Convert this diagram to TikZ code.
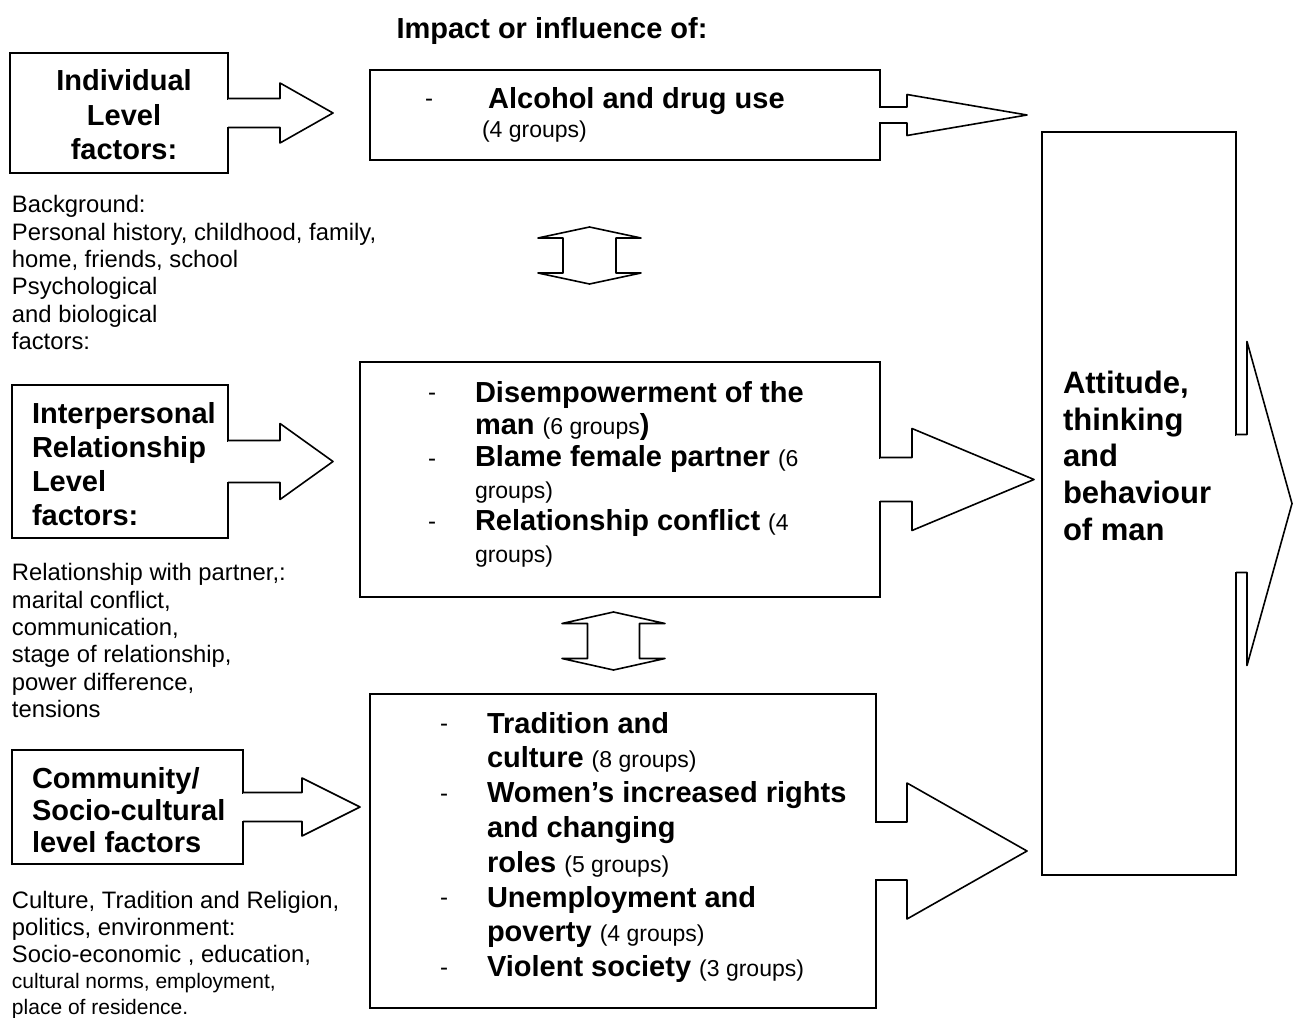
\documentclass[tikz,border=0pt]{standalone}
\usepackage{fontspec}
\setmainfont{Liberation Sans}
\usetikzlibrary{calc}
% block arrow leaving the east side of a named box
% #1 node, #2 shaft half height, #3 shaft length, #4 head half height, #5 head length
\newcommand\blockarr[5]{%
  \fill[white] ($(#1.east)+(-1.3,{-(#2)+1})$) rectangle ($(#1.east)+(1,{#2-1})$);
  \filldraw[fill=white, line width=1.6pt, line join=round]
    ($(#1.east)+(0,-#2)$) -- ++(#3,0) -- ++(0,{#2-#4}) -- ++(#5,#4)
    -- ++(-#5,#4) -- ++(0,{#2-#4}) -- ++(-#3,0);
}
% vertical double arrow around a named coordinate
% #1 coord, #2 tip offset, #3 head base offset, #4 head half width, #5 shaft half width
\newcommand\dblarr[5]{%
  \draw[line width=1.6pt, fill=white, line join=round]
    ($(#1)+(0,-#2)$) -- ++(#4,{#2-#3}) -- ++({-(#4)+(#5)},0) -- ++(0,{2*#3})
    -- ++({#4-#5},0) -- ++({-(#4)},{#2-#3}) -- ++({-(#4)},{-(#2-#3)})
    -- ++({#4-#5},0) -- ++(0,{-2*#3}) -- ++({-(#4)+(#5)},0) -- cycle;
}
\newcommand\grp[1]{{\mdseries\fontsize{23}{34}\selectfont #1}}
\tikzset{
  box/.style={draw, line width=1.6pt, inner sep=0pt, outer sep=0pt, rectangle},
  boldtxt/.style={inner sep=0pt, outer sep=0pt, align=left, anchor=north west,
    font=\fontsize{29}{34.3}\selectfont\bfseries},
  plaintxt/.style={inner sep=0pt, outer sep=0pt, align=left, anchor=north west,
    font=\fontsize{23.8}{27.3}\selectfont},
  dashtxt/.style={inner sep=0pt, outer sep=0pt, anchor=base west,
    font=\fontsize{24}{27}\selectfont}
}
\begin{document}
\begin{tikzpicture}[x=1pt,y=-1pt]
\fill[white] (0,0) rectangle (1298,1017);
\useasboundingbox (0,0) rectangle (1298,1017);

% boxes
\node[box, minimum width=218pt, minimum height=120pt] (ind) at (119,113) {};
\node[box, minimum width=216pt, minimum height=153pt] (inter) at (120,461.5) {};
\node[box, minimum width=231pt, minimum height=114pt] (comm) at (127.5,807) {};
\node[box, minimum width=510pt, minimum height=90pt] (alc) at (625,115) {};
\node[box, minimum width=520pt, minimum height=235pt] (dis) at (620,479.5) {};
\node[box, minimum width=506pt, minimum height=314pt] (trad) at (623,851) {};
\node[box, minimum width=194pt, minimum height=743pt] (att) at (1139,503.5) {};

% block arrows
\blockarr{ind}{14.5}{52}{30}{53}
\blockarr{inter}{21}{52}{38}{53}
\blockarr{comm}{14.5}{59}{29}{58}
\blockarr{alc}{8}{27}{20.5}{120}
\blockarr{dis}{22}{32}{51}{122}
\blockarr{trad}{29}{31}{68}{120}
\blockarr{att}{69}{11}{162}{45}

% double arrows between the middle boxes
\coordinate (d1) at (589.5,255.5);
\coordinate (d2) at (613.5,641);
\dblarr{d1}{28.5}{17.5}{51.5}{26.5}
\dblarr{d2}{29}{17.5}{51.5}{26}

% title
\node[inner sep=0pt, anchor=base, font=\fontsize{29}{34}\selectfont\bfseries] (title) at (552,38.5) {Impact or influence of:};

% left column
\node[boldtxt, align=center, anchor=north] (indt) at (124,69.7) {Individual\\Level\\factors:};
\node[plaintxt] (bg) at (12,195.7) {Background:\\Personal history, childhood, family,\\home, friends, school\\Psychological\\and biological\\factors:};
\node[boldtxt, font=\fontsize{29}{34}\selectfont\bfseries] (intert) at (32,402) {Interpersonal\\Relationship\\Level\\factors:};
\node[plaintxt] (rel) at (12,563.7) {Relationship with partner,:\\marital conflict,\\communication,\\stage of relationship,\\power difference,\\tensions};
\node[boldtxt, font=\fontsize{29}{32}\selectfont\bfseries] (commt) at (32,767) {Community/\\Socio-cultural\\level factors};
\node[plaintxt, font=\fontsize{23.8}{27}\selectfont] (cul1) at (12,891.3) {Culture, Tradition and Religion,\\politics, environment:\\Socio-economic , education,};
\node[plaintxt, font=\fontsize{21}{25.7}\selectfont] (cul2) at (12,973.3) {cultural norms, employment,\\place of residence.};

% alcohol box
\node[dashtxt] (alcd) at (425,106) {-};
\node[inner sep=0pt, anchor=base west, font=\fontsize{29}{34}\selectfont\bfseries] (alct) at (488,108.5) {Alcohol and drug use};
\node[dashtxt, font=\fontsize{23}{27}\selectfont] (alcg) at (482,137.5) {(4 groups)};

% disempowerment box
\node[dashtxt] (disd1) at (428,400) {-};
\node[dashtxt] (disd2) at (428,466) {-};
\node[dashtxt] (disd3) at (428,529) {-};
\node[boldtxt, font=\fontsize{29}{32}\selectfont\bfseries] (dist) at (475,381) {Disempowerment of the\\man \grp{(6 groups})\\Blame female partner \grp{(6}\\\grp{groups)}\\Relationship conflict \grp{(4}\\\grp{groups)}};

% tradition box
\node[dashtxt] (trd1) at (440,731) {-};
\node[dashtxt] (trd2) at (440,801) {-};
\node[dashtxt] (trd3) at (440,905) {-};
\node[dashtxt] (trd4) at (440,975) {-};
\node[boldtxt, font=\fontsize{29}{34.8}\selectfont\bfseries] (tradt) at (487,712) {Tradition and\\culture \grp{(8 groups)}\\Women’s increased rights\\and changing\\roles \grp{(5 groups)}\\Unemployment and\\poverty \grp{(4 groups)}\\Violent society \grp{(3 groups)}};

% attitude box
\node[boldtxt, font=\fontsize{31}{36.7}\selectfont\bfseries] (attt) at (1063,371) {Attitude,\\thinking\\and\\behaviour\\of man};
\end{tikzpicture}
\end{document}
